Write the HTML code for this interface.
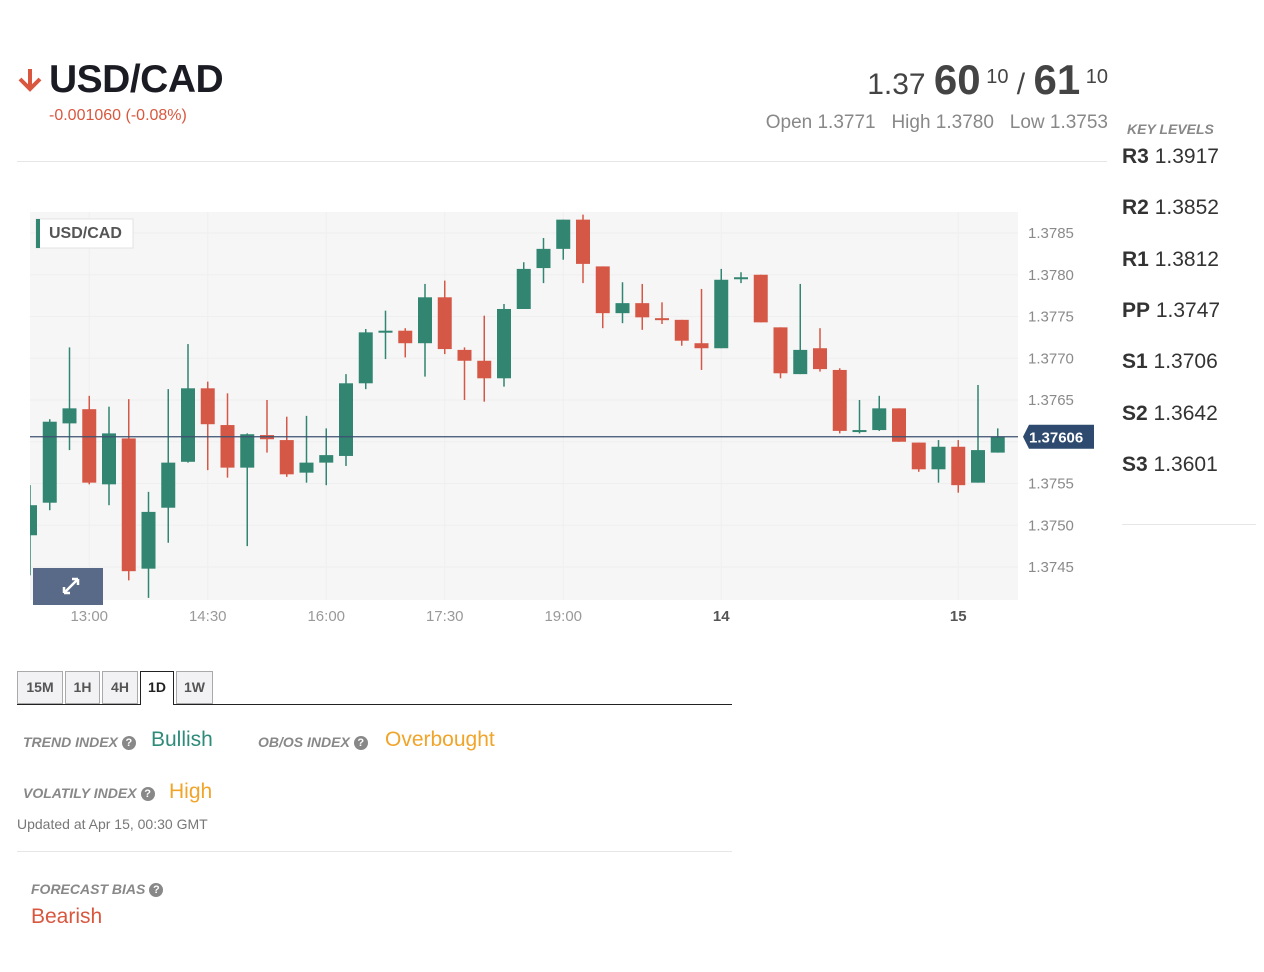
<!DOCTYPE html>
<html><head><meta charset="utf-8">
<style>
body{margin:0;width:1264px;height:972px;background:#fff;font-family:"Liberation Sans",sans-serif;position:relative;overflow:hidden}
.a{position:absolute;white-space:nowrap}
.tab{position:absolute;top:671px;height:33px;box-sizing:border-box;border:1px solid #aaa;background:#f2f2f5;color:#555;font-weight:bold;font-size:14px;text-align:center;line-height:31px}
.lbl{font-style:italic;font-weight:bold;color:#888;font-size:14px}
.q{display:inline-block;width:14px;height:14px;border-radius:50%;background:#888;color:#fff;font-size:11px;line-height:14px;text-align:center;font-style:normal;vertical-align:middle;margin-left:4px}
.kl{position:absolute;left:1122px;font-size:21px;color:#333}
.kl b{color:#333}
</style></head><body>
<svg class="a" style="left:17px;top:67px" width="26" height="26"><path d="M13 2 L13 22 M3 12 L13 22 L23 12" stroke="#d9573f" stroke-width="4" fill="none"/></svg>
<div class="a" style="left:49px;top:58px;font-size:39px;font-weight:bold;color:#1b1b24;letter-spacing:-0.5px">USD/CAD</div>
<div class="a" style="left:49px;top:107px;font-size:16px;color:#d9573f">-0.001060 (-0.08%)</div>
<div class="a" style="right:156px;top:56px;color:#444;font-size:30px"><span>1.37 </span><b style="font-size:42px">60</b><sup style="font-size:20px"> 10</sup> / <b style="font-size:42px">61</b><sup style="font-size:20px"> 10</sup></div>
<div class="a" style="right:156px;top:112px;color:#888;font-size:19px">Open 1.3771 &nbsp; High 1.3780 &nbsp; Low 1.3753</div>
<div class="a" style="left:17px;top:161px;width:1090px;height:1px;background:#e6e6e6"></div>
<div class="a lbl" style="left:1127px;top:121px">KEY LEVELS</div>
<div class="kl" style="top:145px"><b>R3</b> 1.3917</div>
<div class="kl" style="top:196px"><b>R2</b> 1.3852</div>
<div class="kl" style="top:248px"><b>R1</b> 1.3812</div>
<div class="kl" style="top:299px"><b>PP</b> 1.3747</div>
<div class="kl" style="top:350px"><b>S1</b> 1.3706</div>
<div class="kl" style="top:402px"><b>S2</b> 1.3642</div>
<div class="kl" style="top:453px"><b>S3</b> 1.3601</div>
<div class="a" style="left:1122px;top:524px;width:134px;height:1px;background:#e6e6e6"></div>

<svg class="a" id="chart" style="left:0;top:200px" width="1110" height="440"><defs><clipPath id="plotclip"><rect x="30" y="12" width="988" height="388"/></clipPath></defs></svg>

<div class="tab" style="left:17px;width:46px">15M</div>
<div class="tab" style="left:65px;width:35px">1H</div>
<div class="tab" style="left:102px;width:36px">4H</div>
<div class="tab" style="left:140px;width:34px;background:#fff;border-color:#222;border-bottom:none;color:#222;height:34px">1D</div>
<div class="tab" style="left:176px;width:37px">1W</div>
<div class="a" style="left:17px;top:704px;width:123px;height:1px;background:#222"></div>
<div class="a" style="left:174px;top:704px;width:558px;height:1px;background:#222"></div>

<div class="a lbl" style="left:23px;top:734px">TREND INDEX<span class="q">?</span></div>
<div class="a" style="left:151px;top:728px;font-size:21px;color:#2e8b7a">Bullish</div>
<div class="a lbl" style="left:258px;top:734px">OB/OS INDEX<span class="q">?</span></div>
<div class="a" style="left:385px;top:728px;font-size:21px;color:#f0a52a">Overbought</div>
<div class="a lbl" style="left:23px;top:785px">VOLATILY INDEX<span class="q">?</span></div>
<div class="a" style="left:169px;top:780px;font-size:21px;color:#f0a52a">High</div>
<div class="a" style="left:17px;top:816px;font-size:14px;color:#777">Updated at Apr 15, 00:30 GMT</div>
<div class="a" style="left:17px;top:851px;width:715px;height:1px;background:#e6e6e6"></div>
<div class="a lbl" style="left:31px;top:881px">FORECAST BIAS<span class="q">?</span></div>
<div class="a" style="left:31px;top:905px;font-size:21px;color:#d9573f">Bearish</div>

<script>
const opens  =[1.37488,1.37527,1.37622,1.37639,1.37549,1.37604,1.37448,1.37521,1.37576,1.37664,1.37620,1.37569,1.37608,1.37602,1.37563,1.37575,1.37583,1.37670,1.37731,1.37733,1.37718,1.37773,1.37710,1.37697,1.37676,1.37759,1.37808,1.37831,1.37866,1.37810,1.37754,1.37766,1.37748,1.37746,1.37718,1.37712,1.37795,1.37800,1.37737,1.37681,1.37712,1.37686,1.37613,1.37614,1.37640,1.37599,1.37567,1.37594,1.37551,1.37587];
const highs  =[1.37548,1.37627,1.37713,1.37655,1.37642,1.37651,1.37540,1.37663,1.37717,1.37672,1.37658,1.37610,1.37650,1.37630,1.37631,1.37616,1.37681,1.37735,1.37757,1.37736,1.37789,1.37793,1.37713,1.37751,1.37765,1.37815,1.37844,1.37866,1.37872,1.37810,1.37791,1.37789,1.37767,1.37746,1.37783,1.37807,1.37803,1.37800,1.37737,1.37789,1.37736,1.37688,1.37650,1.37655,1.37640,1.37599,1.37602,1.37602,1.37668,1.37616];
const lows   =[1.37440,1.37518,1.37590,1.37549,1.37524,1.37434,1.37413,1.37479,1.37575,1.37566,1.37557,1.37475,1.37587,1.37558,1.37551,1.37548,1.37571,1.37663,1.37699,1.37701,1.37678,1.37705,1.37650,1.37648,1.37666,1.37759,1.37790,1.37818,1.37790,1.37736,1.37742,1.37734,1.37741,1.37715,1.37686,1.37712,1.37790,1.37743,1.37676,1.37681,1.37684,1.37610,1.37610,1.37613,1.37600,1.37564,1.37551,1.37539,1.37551,1.37587];
const closes =[1.37524,1.37624,1.37640,1.37551,1.37610,1.37445,1.37516,1.37575,1.37664,1.37621,1.37569,1.37609,1.37603,1.37561,1.37575,1.37584,1.37670,1.37731,1.37733,1.37718,1.37773,1.37711,1.37697,1.37676,1.37759,1.37807,1.37831,1.37866,1.37813,1.37754,1.37766,1.37749,1.37746,1.37721,1.37712,1.37794,1.37797,1.37743,1.37682,1.37710,1.37687,1.37613,1.37614,1.37640,1.37600,1.37567,1.37594,1.37548,1.37590,1.37606];
const yTicks=[1.3785,1.3780,1.3775,1.3770,1.3765,1.3760,1.3755,1.3750,1.3745];
const xLabels=[{i:3,t:"13:00"},{i:9,t:"14:30"},{i:15,t:"16:00"},{i:21,t:"17:30"},{i:27,t:"19:00"},{i:35,t:"14",b:1},{i:47,t:"15",b:1}];
const lastPrice=1.37606;

const svg=document.getElementById('chart');const NS='http://www.w3.org/2000/svg';
const OY=200;
function y(p){return 233-OY+(1.3785-p)/0.0001*8.35;}
function x(i){return 30+i*19.75;}
function mk(tag,at,parent){const e=document.createElementNS(NS,tag);for(const k in at)e.setAttribute(k,at[k]);(parent||svg).appendChild(e);return e;}
let e=mk('rect',{x:30,y:12,width:988,height:388,fill:'#f6f6f6'});


yTicks.forEach(t=>{
 let g=mk('line',{x1:30,x2:1018,y1:y(t),y2:y(t),stroke:'#efefef'});
 
 
 if(Math.abs(t-1.3760)<1e-9)return;
 let l=mk('text',{x:1028,y:y(t)+5,'font-size':15,fill:'#8a8a8a','font-family':'Liberation Sans'});l.textContent=t.toFixed(4);
 
 
});
xLabels.forEach(o=>{
 let g=mk('line',{x1:x(o.i),x2:x(o.i),y1:12,y2:400,stroke:'#efefef'});
 
 
 let l=mk('text',{x:x(o.i),y:421,'font-size':15,fill:o.b?'#555':'#999','font-weight':o.b?'bold':'normal','text-anchor':'middle','font-family':'Liberation Sans'});l.textContent=o.t;
 
 
});
const cg=mk('g',{'clip-path':'url(#plotclip)'});


opens.forEach((o,i)=>{
 const c=closes[i],up=c>=o,col=up?'#318571':'#d55847';
 const g=mk('g',{},cg);
 
 
 mk('line',{x1:x(i),x2:x(i),y1:y(highs[i]),y2:y(lows[i]),stroke:col,'stroke-width':1.5},g);
 const top=y(Math.max(o,c)),bot=y(Math.min(o,c));
 mk('rect',{x:x(i)-7,y:top,width:14,height:Math.max(bot-top,2),fill:col},g);
});
e=mk('line',{x1:30,x2:1018,y1:y(lastPrice),y2:y(lastPrice),stroke:'#3c5070','stroke-width':1.3});


const ly=y(lastPrice);
e=mk('path',{d:`M1023 ${ly} L1029 ${ly-12} L1094 ${ly-12} L1094 ${ly+12} L1029 ${ly+12} Z`,fill:'#2e4a6e'});


e=mk('text',{x:1029,y:ly+6,'font-size':15,fill:'#fff','font-weight':'bold','font-family':'Liberation Sans'});e.textContent=lastPrice.toFixed(5);


e=mk('rect',{x:36,y:19,width:97,height:29,fill:'#fff',stroke:'#e3e3e3'});


mk('rect',{x:36,y:19,width:4,height:29,fill:'#318571'});
e=mk('text',{x:49,y:38,'font-size':16,fill:'#555','font-weight':'bold','font-family':'Liberation Sans'});e.textContent='USD/CAD';


e=mk('rect',{x:33,y:368,width:70,height:37,fill:'#586a88'});


mk('path',{d:'M64 393 L78 379 M64 393 L64 387 M64 393 L70 393 M78 379 L72 379 M78 379 L78 385',stroke:'#fff','stroke-width':2.5,fill:'none'});
</script>
</body></html>
